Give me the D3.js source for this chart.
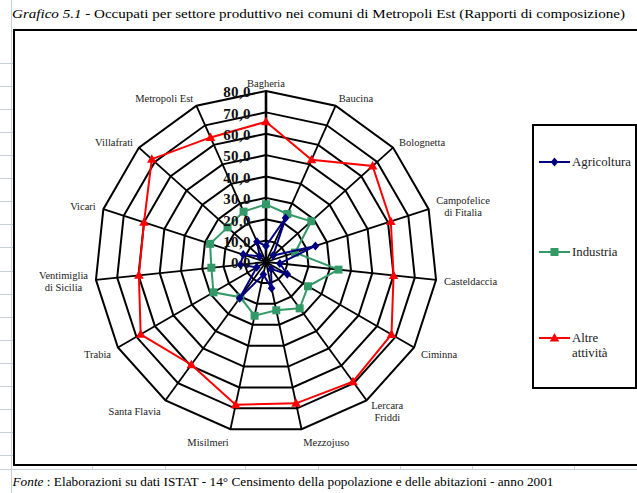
<!DOCTYPE html>
<html><head><meta charset="utf-8">
<script src="https://cdn.jsdelivr.net/npm/d3@7"></script>
<style>html,body{margin:0;padding:0;background:#fff;} svg{display:block;}</style>
</head><body><svg id="c" width="637" height="493"></svg>
<script>
const categories = ["Bagheria","Baucina","Bolognetta","Campofelice\ndi Fitalia","Casteldaccia","Ciminna","Lercara\nFriddi","Mezzojuso","Misilmeri","Santa Flavia","Trabia","Ventimiglia\ndi Sicilia","Vicari","Villafrati","Metropoli Est"];
const agricoltura = [7.5, 22.5, 4.5, 24.3, 6.5, 11.5, 4.0, 12.5, 6.0, 21.0, 5.0, 12.0, 11.2, 4.0, 10.4];
const industria   = [27.0, 24.6, 28.5, 14.3, 34.1, 22.7, 26.8, 23.1, 25.7, 20.4, 28.4, 25.7, 27.5, 24.2, 25.8];
const altre       = [65.6, 52.4, 67.1, 61.4, 60.0, 67.8, 69.2, 67.6, 68.3, 59.4, 67.7, 59.8, 60.0, 71.9, 63.8];
const tickValues = [0, 10, 20, 30, 40, 50, 60, 70, 80];
const tickLabels = ["0,0","10,0","20,0","30,0","40,0","50,0","60,0","70,0","80,0"];
const seriesNames = ["Agricoltura", "Industria", "Altre\nattività"];
const titleItalic = "Grafico 5.1";
const titleRest = "  - Occupati per settore produttivo nei comuni di Metropoli Est (Rapporti di composizione)";
const footItalic = "Fonte";
const footRest = " : Elaborazioni su dati ISTAT - 14° Censimento della popolazione e delle abitazioni - anno 2001";

const FONT = "'Liberation Serif','Times New Roman',serif";
const svg = d3.select("#c");
const n = categories.length;
const cx = 266, cy = 262, R = 171;
const rScale = d3.scaleLinear().domain([0, 80]).range([0, R]);
const aScale = d3.scaleLinear().domain([0, n]).range([0, 2 * Math.PI]);
const pt = (i, v) => [cx + rScale(v) * Math.sin(aScale(i)), cy - rScale(v) * Math.cos(aScale(i))];

// sheet gridlines (light gray)
const g0 = svg.append("g").attr("stroke", "#c8d0d8").attr("stroke-width", 1);
g0.append("line").attr("x1", 11.5).attr("x2", 11.5).attr("y1", 0).attr("y2", 493);
g0.append("line").attr("x1", 0).attr("x2", 637).attr("y1", 469.5).attr("y2", 469.5);
d3.range(63, 460, 23.06).forEach(y => g0.append("line").attr("x1", 0).attr("x2", 13).attr("y1", Math.round(y) + 0.5).attr("y2", Math.round(y) + 0.5));
[92.5, 165.5, 245.5, 318.5, 400.5, 472.5, 574.5].forEach(x => g0.append("line").attr("x1", x).attr("x2", x).attr("y1", 466).attr("y2", 469));

// frame
svg.append("rect").attr("x", 14).attr("y", 30).attr("width", 640).attr("height", 435)
  .attr("fill", "none").attr("stroke", "#000").attr("stroke-width", 2);

// title
const t = svg.append("text").attr("x", 12).attr("y", 18).attr("font-family", FONT).attr("font-size", 13)
  .attr("textLength", 613).attr("lengthAdjust", "spacingAndGlyphs");
t.append("tspan").attr("font-style", "italic").text(titleItalic);
t.append("tspan").text(titleRest);

// footer
const f = svg.append("text").attr("x", 12.5).attr("y", 486).attr("font-family", FONT).attr("font-size", 12.5)
  .attr("textLength", 541).attr("lengthAdjust", "spacingAndGlyphs");
f.append("tspan").attr("font-style", "italic").text(footItalic);
f.append("tspan").text(footRest);

// grid rings
const grid = svg.append("g");
tickValues.filter(v => v > 0).forEach(v => {
  grid.append("polygon").attr("points", d3.range(n).map(i => pt(i, v).join(",")).join(" "))
    .attr("fill", "none").attr("stroke", "#000").attr("stroke-width", 2).attr("stroke-linejoin", "miter");
});
// spokes
d3.range(n).forEach(i => {
  const p = pt(i, 80);
  grid.append("line").attr("x1", cx).attr("y1", cy).attr("x2", p[0]).attr("y2", p[1])
    .attr("stroke", "#000").attr("stroke-width", i === 0 ? 2.6 : 1.8);
});

// category labels
categories.forEach((name, i) => {
  const a = aScale(i), s = Math.sin(a), c = Math.cos(a);
  const d = 8;
  let x = cx + (R + d) * s;
  let y = cy - (R + d) * c + (c < 0 ? -c * 5 : 0);
  const lines = name.split("\n");
  const txt = svg.append("text").attr("font-family", FONT).attr("font-size", 10.5).attr("fill", "#222")
    .attr("text-anchor", "middle");
  const lh = 12;
  lines.forEach((ln, k) => {
    txt.append("tspan").attr("x", 0).attr("y", y + (k - (lines.length - 1) / 2) * lh).attr("dy", "0.35em").text(ln);
  });
  let w = 0;
  txt.selectAll("tspan").each(function () { w = Math.max(w, this.getComputedTextLength()); });
  let ax = x;
  if (s > 0.1) ax = x + w / 2; else if (s < -0.1) ax = x - w / 2;
  txt.selectAll("tspan").attr("x", ax);
});

// series
const markers = {
  diamond: "M0,-4.5L3.8,0L0,4.5L-3.8,0Z",
  square: "M-4,-4H4V4H-4Z",
  triangle: "M0,-5L4.8,3.5H-4.8Z"
};
const series = [
  { name: seriesNames[1], values: industria, color: "#339966", marker: markers.square },
  { name: seriesNames[2], values: altre, color: "#ff0000", marker: markers.triangle },
  { name: seriesNames[0], values: agricoltura, color: "#000080", marker: markers.diamond }
];
const line = d3.line().curve(d3.curveLinearClosed);
series.forEach(sr => {
  const pts = sr.values.map((v, i) => pt(i, v));
  svg.append("path").attr("d", line(pts)).attr("fill", "none").attr("stroke", sr.color).attr("stroke-width", 2);
  svg.append("g").selectAll("path").data(pts).join("path")
    .attr("transform", p => `translate(${p[0]},${p[1]})`).attr("d", sr.marker).attr("fill", sr.color);
});

// value axis labels
svg.append("g").selectAll("text").data(tickValues).join("text")
  .attr("x", 251).attr("y", v => cy - rScale(v) + 1).attr("dy", "0.35em")
  .attr("text-anchor", "end").attr("font-family", FONT).attr("font-size", 15).attr("font-weight", "bold")
  .attr("letter-spacing", 0.4).attr("fill", "#111")
  .text((v, i) => tickLabels[i]);

// legend
svg.append("rect").attr("x", 533).attr("y", 125).attr("width", 103).attr("height", 263)
  .attr("fill", "#fff").attr("stroke", "#000").attr("stroke-width", 2);
const legendItems = [
  { name: seriesNames[0], color: "#000080", marker: markers.diamond, y: 162 },
  { name: seriesNames[1], color: "#339966", marker: markers.square, y: 252 },
  { name: seriesNames[2], color: "#ff0000", marker: markers.triangle, y: 338 }
];
legendItems.forEach(it => {
  svg.append("line").attr("x1", 539).attr("x2", 570).attr("y1", it.y).attr("y2", it.y)
    .attr("stroke", it.color).attr("stroke-width", 2);
  svg.append("path").attr("transform", `translate(554.5,${it.y})`).attr("d", it.marker).attr("fill", it.color);
  const tx = svg.append("text").attr("font-family", FONT).attr("font-size", 12.8).attr("fill", "#222");
  it.name.split("\n").forEach((ln, k) => {
    tx.append("tspan").attr("x", 572).attr("y", it.y + k * 14.5).attr("dy", "0.35em").text(ln);
  });
});
</script>
</body></html>
